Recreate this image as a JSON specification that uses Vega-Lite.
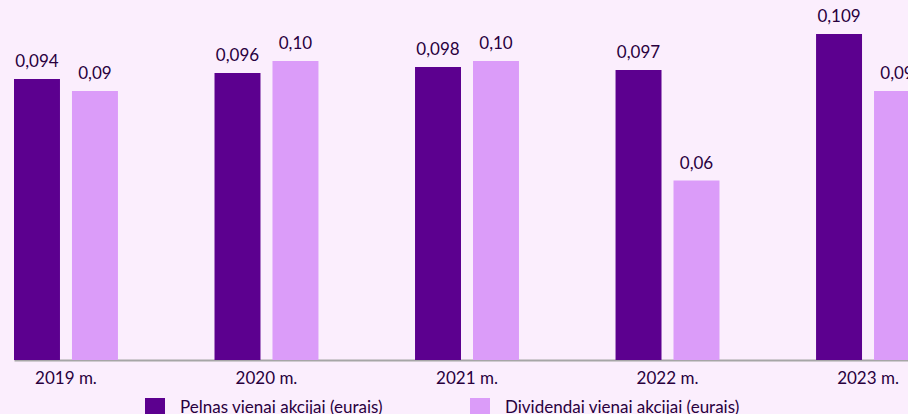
{
  "$schema": "https://vega.github.io/schema/vega-lite/v6.json",
  "autosize": {"type": "none"},
  "padding": {"left": 14, "top": 0, "right": 0, "bottom": 54},
  "width": 894,
  "height": 360,
  "background": "#fbeefd",
  "config": {
    "view": {"stroke": null},
    "font": "Lato",
    "text": {"font": "Lato"}
  },
  "data": {
    "values": [
      {"year": "2019 m.", "series": "Pelnas vienai akcijai (eurais)", "value": 0.094, "label": "0,094"},
      {"year": "2019 m.", "series": "Dividendai vienai akcijai (eurais)", "value": 0.09, "label": "0,09"},
      {"year": "2020 m.", "series": "Pelnas vienai akcijai (eurais)", "value": 0.096, "label": "0,096"},
      {"year": "2020 m.", "series": "Dividendai vienai akcijai (eurais)", "value": 0.10, "label": "0,10"},
      {"year": "2021 m.", "series": "Pelnas vienai akcijai (eurais)", "value": 0.098, "label": "0,098"},
      {"year": "2021 m.", "series": "Dividendai vienai akcijai (eurais)", "value": 0.10, "label": "0,10"},
      {"year": "2022 m.", "series": "Pelnas vienai akcijai (eurais)", "value": 0.097, "label": "0,097"},
      {"year": "2022 m.", "series": "Dividendai vienai akcijai (eurais)", "value": 0.06, "label": "0,06"},
      {"year": "2023 m.", "series": "Pelnas vienai akcijai (eurais)", "value": 0.109, "label": "0,109"},
      {"year": "2023 m.", "series": "Dividendai vienai akcijai (eurais)", "value": 0.09, "label": "0,09"}
    ]
  },
  "encoding": {
    "x": {
      "field": "year",
      "type": "nominal",
      "sort": null,
      "scale": {"range": [0, 906], "paddingInner": 0.4816, "paddingOuter": 0},
      "axis": {
        "title": null,
        "labelAngle": 0,
        "ticks": false,
        "domainColor": "#a6a6a6",
        "domainWidth": 2,
        "labelFontSize": 17,
        "labelColor": "#29003e",
        "labelPadding": 10,
        "labelFont": "Lato"
      }
    },
    "xOffset": {
      "field": "series",
      "type": "nominal",
      "sort": ["Pelnas vienai akcijai (eurais)", "Dividendai vienai akcijai (eurais)"],
      "scale": {"paddingInner": 0.207, "paddingOuter": 0}
    },
    "y": {
      "field": "value",
      "type": "quantitative",
      "scale": {"domain": [0, 0.1204], "nice": false},
      "axis": null
    }
  },
  "layer": [
    {
      "mark": {"type": "bar"},
      "encoding": {
        "color": {
          "field": "series",
          "type": "nominal",
          "sort": ["Pelnas vienai akcijai (eurais)", "Dividendai vienai akcijai (eurais)"],
          "scale": {
            "domain": ["Pelnas vienai akcijai (eurais)", "Dividendai vienai akcijai (eurais)"],
            "range": ["#5c008f", "#db9cf9"]
          },
          "legend": {
            "title": null,
            "orient": "none",
            "direction": "horizontal",
            "legendX": 131,
            "legendY": 398,
            "symbolType": "square",
            "symbolSize": 400,
            "symbolStrokeWidth": 0,
            "symbolOpacity": 1,
            "labelFontSize": 17,
            "labelColor": "#29003e",
            "labelFont": "Lato",
            "labelOffset": 15,
            "labelLimit": 400,
            "columnPadding": 87
          }
        }
      }
    },
    {
      "mark": {"type": "text", "baseline": "bottom", "dy": -8, "fontSize": 17, "color": "#29003e", "font": "Lato"},
      "encoding": {
        "text": {"field": "label", "type": "nominal"}
      }
    }
  ]
}
